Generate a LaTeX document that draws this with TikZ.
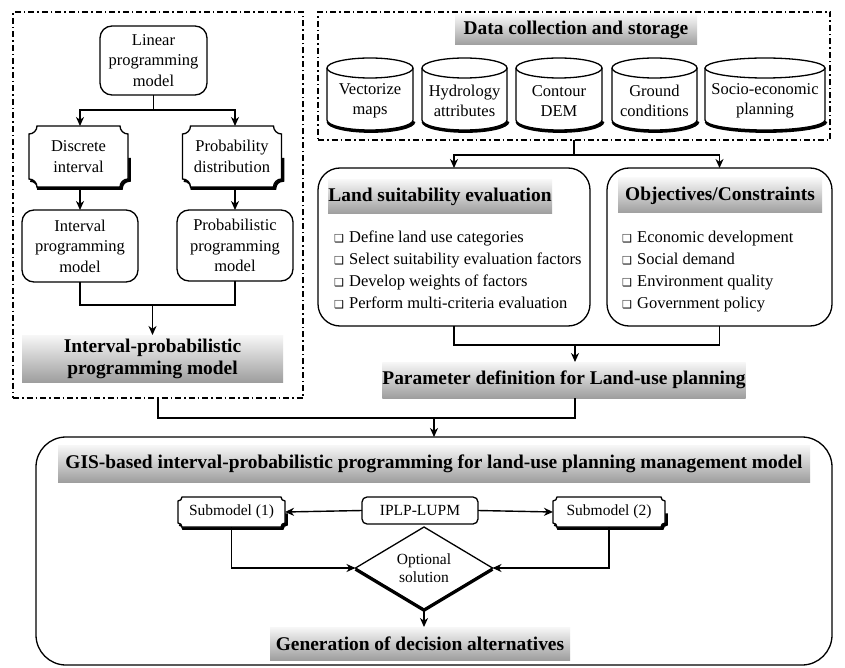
\documentclass[tikz,border=0pt]{standalone}
\usepackage{fontspec}
\setmainfont{Liberation Serif}
\newfontfamily\symfont{DejaVu Sans}
\usetikzlibrary{arrows.meta,calc,shapes.geometric}
\newcommand\myBody{\fontsize{16.5}{20.5}\selectfont}
\newcommand\myTitle{\bfseries\fontsize{19.4}{22}\selectfont}
\newcommand\mySmall{\fontsize{15.5}{18.5}\selectfont}
\newcommand\cbx{\makebox[15pt][l]{\raisebox{0pt}{\symfont\fontsize{11}{11}\selectfont ❑}}}
% plaque: name, cx, cy, half width, half height, corner radius, text, font
\newcommand\plaque[8]{%
  \node[inner sep=0pt, outer sep=0pt, align=center, font=#8, minimum width=2*#4pt, minimum height=2*#5pt] (#1) at (#2,#3) {};
  \begin{scope}[shift={(#2,#3)}]
    \draw[line width=3pt] (#4+1.4,1.4) -- (#4+1.4,#5-#6+1.4)
      .. controls (#4-0.55*#6+1.4,#5-#6+1.4) and (#4-#6+1.4,#5-0.55*#6+1.4) .. (#4-#6+1.4,#5+1.4)
      -- (-#4+#6+1.4,#5+1.4)
      .. controls (-#4+#6+1.4,#5-0.55*#6+1.4) and (-#4+0.55*#6+1.4,#5-#6+1.4) .. (-#4+1.4,#5-#6+1.4);
    \draw[line width=1.3pt, fill=white] (-#4+#6,-#5) -- (#4-#6,-#5)
      .. controls (#4-#6,-#5+0.55*#6) and (#4-0.55*#6,-#5+#6) .. (#4,-#5+#6)
      -- (#4,#5-#6)
      .. controls (#4-0.55*#6,#5-#6) and (#4-#6,#5-0.55*#6) .. (#4-#6,#5)
      -- (-#4+#6,#5)
      .. controls (-#4+#6,#5-0.55*#6) and (-#4+0.55*#6,#5-#6) .. (-#4,#5-#6)
      -- (-#4,-#5+#6)
      .. controls (-#4+0.55*#6,-#5+#6) and (-#4+#6,-#5+0.55*#6) .. (-#4+#6,-#5) -- cycle;
  \end{scope}
  \node[inner sep=0pt, align=center, font=#8] at (#1.center) {#7};
}
% cylinder: name, cx, top, bottom, half width, text
\newcommand\cylnode[6]{%
  \draw[line width=3pt] (#2-#5+1,#4-10+1.4) arc[start angle=180, end angle=0, x radius=#5, y radius=10];
  \draw[line width=1.3pt, fill=white] (#2-#5,#3+10) -- (#2-#5,#4-10) arc[start angle=180, end angle=0, x radius=#5, y radius=10] -- (#2+#5,#3+10);
  \draw[line width=1.3pt] (#2,#3+10) ellipse[x radius=#5, y radius=10];
  \node[inner sep=0pt, align=center, font=\myBody] (#1) at (#2,{(#3+#4)/2+7}) {#6};
}
\begin{document}
\begin{tikzpicture}[x=1pt,y=-1pt,
  arr/.style={-{Stealth[length=9pt,width=8pt,inset=2.8pt]}, line width=1.4pt},
  conn/.style={line width=1.4pt},
  frame/.style={draw, line width=1.3pt, dash pattern=on 6pt off 3pt on 1.5pt off 3pt, inner sep=0pt, outer sep=0pt},
  gbox/.style={top color=gray!6, bottom color=black!38, draw=none, font=\myTitle, align=center, inner sep=0pt, outer sep=0pt},
  rbox/.style={draw, line width=1.3pt, align=center, font=\myBody, inner sep=0pt, outer sep=0pt},
  item/.style={anchor=base west, inner sep=0pt, font=\myBody},
]
\useasboundingbox (0,0) rectangle (845,668);
\fill[white] (0,0) rectangle (845,668);

% ---------- left frame ----------
\node[frame, minimum width=290pt, minimum height=386pt] (leftb) at (158,205) {};
\node[rbox, rounded corners=12pt, minimum width=107pt, minimum height=69pt] (lpm) at (153.5,60.5) {Linear\\programming\\model};
\plaque{di}{78.5}{156.5}{49.5}{30.5}{8}{Discrete\\interval}{\myBody}
\plaque{pd}{232}{156.5}{49.5}{30.5}{8}{Probability\\distribution}{\myBody}
\node[rbox, rounded corners=12pt, minimum width=116pt, minimum height=72pt] (ipm) at (80,246) {Interval\\programming\\model};
\node[rbox, rounded corners=12pt, minimum width=116pt, minimum height=71pt] (ppm) at (235,245.5) {Probabilistic\\programming\\model};
\node[gbox, minimum width=261pt, minimum height=47pt] (ipp) at (152.5,358.5) {Interval-probabilistic\\programming model};

\coordinate (ls) at (153.5,110);
\draw[conn] (lpm.south) -- (ls);
\draw[arr] (ls) -| (di.north -| ipm.north);
\draw[arr] (ls) -| (pd.north -| ppm.north);
\draw[arr] (di.south -| ipm.north) -- (ipm.north);
\draw[arr] (pd.south -| ppm.north) -- (ppm.north);
\coordinate (lj) at (152.5,305);
\draw[conn] (ipm.south) |- (lj);
\draw[conn] (ppm.south) |- (lj);
\draw[arr] (lj) -- (ipp.north);

% ---------- data frame ----------
\node[frame, minimum width=512pt, minimum height=128pt] (datab) at (574,76) {};
\node[gbox, minimum width=242pt, minimum height=30pt] (dtitle) at (576,30) {Data collection and storage};
\cylnode{c1}{370}{58}{130}{43}{Vectorize\\maps}
\cylnode{c2}{464.5}{58}{130}{42.5}{Hydrology\\attributes}
\cylnode{c3}{559}{58}{130}{43}{Contour\\DEM}
\cylnode{c4}{654.5}{58}{130}{42.5}{Ground\\conditions}
\cylnode{c5}{765}{58}{130}{60}{Socio-economic\\planning}

% ---------- evaluation boxes ----------
\node[rbox, rounded corners=22pt, minimum width=272pt, minimum height=158pt] (lse) at (454,247) {};
\node[rbox, rounded corners=22pt, minimum width=225pt, minimum height=158pt] (obj) at (719.5,247) {};
\node[gbox, minimum width=224pt, minimum height=34pt] (lset) at (440,196.5) {Land suitability evaluation};
\node[gbox, minimum width=204pt, minimum height=35pt] (objt) at (720,195.5) {Objectives/Constraints};
\node[item] (l1) at (334,242.5) {\cbx Define land use categories};
\node[item] (l2) at (334,264.5) {\cbx Select suitability evaluation factors};
\node[item] (l3) at (334,286.5) {\cbx Develop weights of factors};
\node[item] (l4) at (334,308.5) {\cbx Perform multi-criteria evaluation};
\node[item] (o1) at (622,242.5) {\cbx Economic development};
\node[item] (o2) at (622,264.5) {\cbx Social demand};
\node[item] (o3) at (622,286.5) {\cbx Environment quality};
\node[item] (o4) at (622,308.5) {\cbx Government policy};

\coordinate (ds) at (574,155);
\draw[conn] (datab.south) -- (ds);
\draw[arr] (ds) -| (lse.north);
\draw[arr] (ds) -| (obj.north);

\node[gbox, minimum width=362pt, minimum height=36pt] (param) at (564,380) {Parameter definition for Land-use planning};
\coordinate (pj) at (575,345);
\draw[conn] (lse.south) |- (pj);
\draw[conn] (obj.south) |- (pj);
\draw[arr] (pj) -- (pj |- param.north);

% ---------- bottom ----------
\node[rbox, rounded corners=30pt, minimum width=796pt, minimum height=228pt] (big) at (434,551) {};
\coordinate (bj) at (434,418);
\draw[conn] (leftb.south) |- (bj);
\draw[conn] (param.south -| pj) |- (bj);
\draw[arr] (bj) -- (big.north);

\node[gbox, minimum width=752pt, minimum height=37pt] (gist) at (434,463.5) {GIS-based interval-probabilistic programming for land-use planning management model};
\plaque{sub1}{231.5}{512}{53.5}{15}{4}{Submodel (1)}{\mySmall}
\plaque{sub2}{609}{512}{56}{15}{4}{Submodel (2)}{\mySmall}
\node[rbox, rounded corners=5pt, minimum width=116pt, minimum height=27pt, font=\mySmall] (iplp) at (420,510.5) {IPLP-LUPM};
\draw[arr] (iplp.west) -- (sub1.east);
\draw[arr] (iplp.east) -- (sub2.west);

\node[diamond, draw, line width=1.3pt, fill=white, minimum width=137pt, minimum height=82pt, aspect=1.67, inner sep=0pt, outer sep=0pt, align=center, font=\mySmall] (dia) at (424,568) {Optional\\solution};
\draw[line width=3pt] ([yshift=-1.3pt]dia.west) -- ([yshift=-1.3pt]dia.south) -- ([yshift=-1.3pt]dia.east);
\draw[arr] (sub1.south) |- (dia.west);
\draw[arr] (sub2.south) |- (dia.east);
\node[gbox, minimum width=300pt, minimum height=33pt] (gen) at (420,643.5) {Generation of decision alternatives};
\draw[arr] (dia.south) -- (dia.south |- gen.north);
\end{tikzpicture}
\end{document}
